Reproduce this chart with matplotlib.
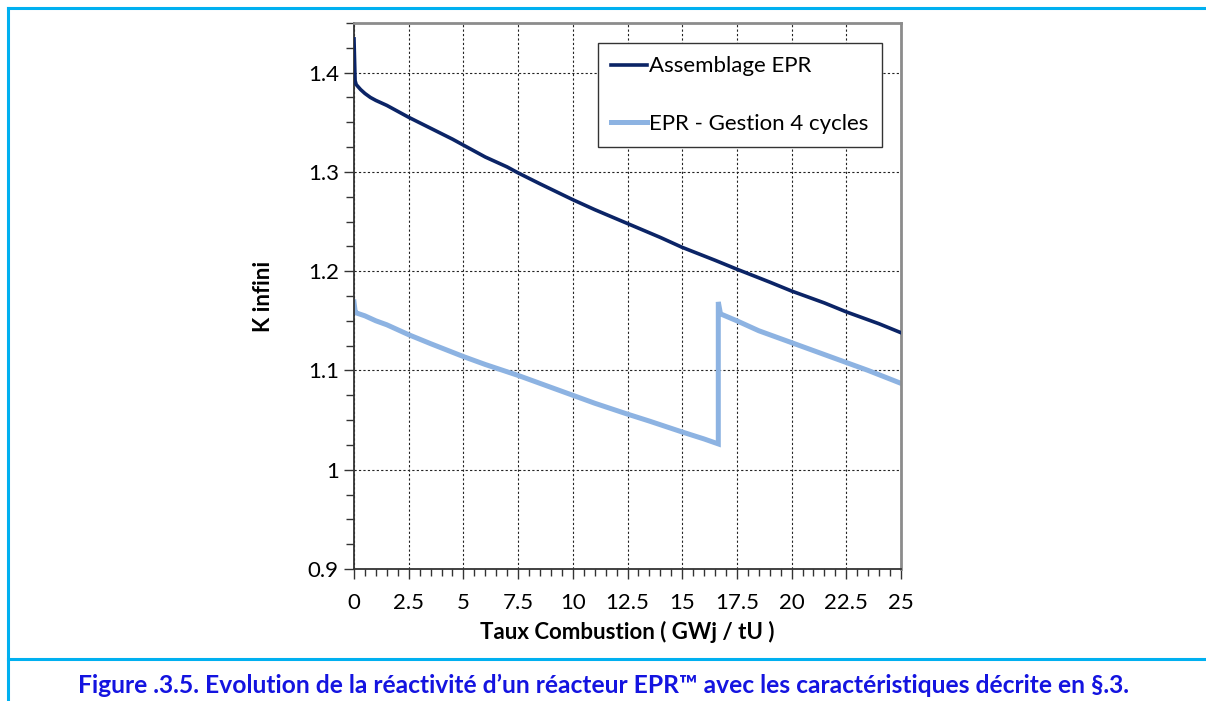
import numpy as np
import matplotlib
matplotlib.use("Agg")
import matplotlib.pyplot as plt
from matplotlib.lines import Line2D
from matplotlib.ticker import MultipleLocator

plt.rcParams["font.family"] = ["Lato", "DejaVu Sans"]

# burnup (GWj/tU) and k-infinity readings
burnup_assemblage = [0.0, 0.05, 0.1, 0.3, 0.5, 0.75, 1.0, 1.5, 2.0, 2.5, 3.5, 4.5, 5.0, 6.0,
                     7.0, 7.5, 8.5, 10.0, 11.0, 12.5, 14.0, 15.0, 16.5, 17.5, 19.0,
                     20.0, 21.5, 22.5, 24.0, 25.0]
kinf_assemblage = [1.434, 1.392, 1.388, 1.383, 1.379, 1.375, 1.372, 1.367, 1.361, 1.355,
                   1.344, 1.333, 1.327, 1.315, 1.305, 1.299, 1.288, 1.272, 1.262, 1.248,
                   1.234, 1.224, 1.211, 1.202, 1.189, 1.180, 1.168, 1.159, 1.147, 1.138]

burnup_4cycles = [0.0, 0.05, 0.1, 0.5, 1.0, 1.5, 2.5, 3.5, 5.0, 6.0, 7.5, 8.5, 10.0, 11.0,
                  12.5, 13.5, 15.0, 16.0, 16.65, 16.65, 16.75, 17.5, 18.5, 20.0, 21.0,
                  22.5, 23.5, 25.0]
kinf_4cycles = [1.169, 1.160, 1.158, 1.155, 1.150, 1.146, 1.136, 1.127, 1.114, 1.106,
                1.095, 1.087, 1.075, 1.067, 1.056, 1.049, 1.038, 1.031, 1.026, 1.169,
                1.157, 1.150, 1.140, 1.128, 1.120, 1.108, 1.100, 1.087]

series_labels = ["Assemblage EPR", "EPR - Gestion 4 cycles"]
series_colors = ["#0B2466", "#8DB3E2"]

x_ticks = np.arange(0, 25.01, 2.5)
x_tick_labels = ["0", "2.5", "5", "7.5", "10", "12.5", "15", "17.5", "20", "22.5", "25"]
y_ticks = [0.9, 1.0, 1.1, 1.2, 1.3, 1.4]
y_tick_labels = ["0.9", "1", "1.1", "1.2", "1.3", "1.4"]

caption = ("Figure .3.5. Evolution de la r\u00e9activit\u00e9 d\u2019un r\u00e9acteur EPR\u2122 "
           "avec les caract\u00e9ristiques d\u00e9crite en \u00a7.3.")

fig = plt.figure(figsize=(12.06, 7.01), dpi=100)
W, H = 1206, 701

ax = fig.add_axes([354 / W, 1 - 569 / H, (901 - 354) / W, (569 - 23) / H])

ax.plot(burnup_assemblage, kinf_assemblage, color=series_colors[0], lw=2.6,
        solid_joinstyle="round", zorder=3)
ax.plot(burnup_4cycles, kinf_4cycles, color=series_colors[1], lw=3.6,
        solid_joinstyle="miter", zorder=2)

ax.set_xlim(0, 25)
ax.set_ylim(0.9, 1.45)
ax.set_xticks(x_ticks)
ax.set_xticklabels(x_tick_labels, fontsize=16)
ax.set_yticks(y_ticks)
ax.set_yticklabels(y_tick_labels, fontsize=16)
ax.xaxis.set_minor_locator(MultipleLocator(0.5))
ax.yaxis.set_minor_locator(MultipleLocator(0.025))
ax.tick_params(axis="both", which="both", direction="out", color="#333333", width=1)
ax.tick_params(axis="both", which="major", length=7)
ax.tick_params(axis="x", which="major", pad=10)
ax.tick_params(axis="y", which="major", pad=4)
ax.tick_params(axis="x", which="minor", length=5)
ax.tick_params(axis="y", which="minor", length=6)
ax.grid(True, which="major", color="#222222", linestyle=(0, (2, 2)), linewidth=0.8)

for side in ["left", "bottom"]:
    ax.spines[side].set_color("#333333")
    ax.spines[side].set_linewidth(1.3)
for side in ["top", "right"]:
    ax.spines[side].set_color("#8c8c8c")
    ax.spines[side].set_linewidth(2)

ax.set_xlabel("Taux Combustion ( GWj / tU )", fontsize=16, fontweight="bold", labelpad=6)
ax.set_ylabel("K infini", fontsize=16, fontweight="bold", labelpad=24)

handles = [Line2D([0], [0], color=series_colors[0], lw=2.6),
           Line2D([0], [0], color=series_colors[1], lw=3.6)]
leg = ax.legend(handles, series_labels, loc="upper left",
                bbox_to_anchor=((598 - 354) / (901 - 354), 1 - (43 - 23) / (569 - 23)),
                fontsize=16, frameon=True, fancybox=False, edgecolor="#333333",
                framealpha=1, handlelength=1.6, handletextpad=0.1, labelspacing=1.7,
                borderpad=0.6, borderaxespad=0)
leg.get_frame().set_linewidth(1)

# cyan frame around the figure and caption separator
frame_color = "#00B0F0"
fig.add_artist(Line2D([8 / W, 8 / W], [0, 1 - 8 / H], color=frame_color, lw=2.2))
fig.add_artist(Line2D([8 / W, 1], [1 - 8 / H, 1 - 8 / H], color=frame_color, lw=2.2))
fig.add_artist(Line2D([8 / W, 1], [1 - 659 / H, 1 - 659 / H], color=frame_color, lw=2.2))

fig.text(603 / W, 1 - 685 / H, caption, ha="center", va="center", fontsize=17.7,
         fontweight="bold", color="#1414E0")

fig.savefig("out.png", dpi=100)
